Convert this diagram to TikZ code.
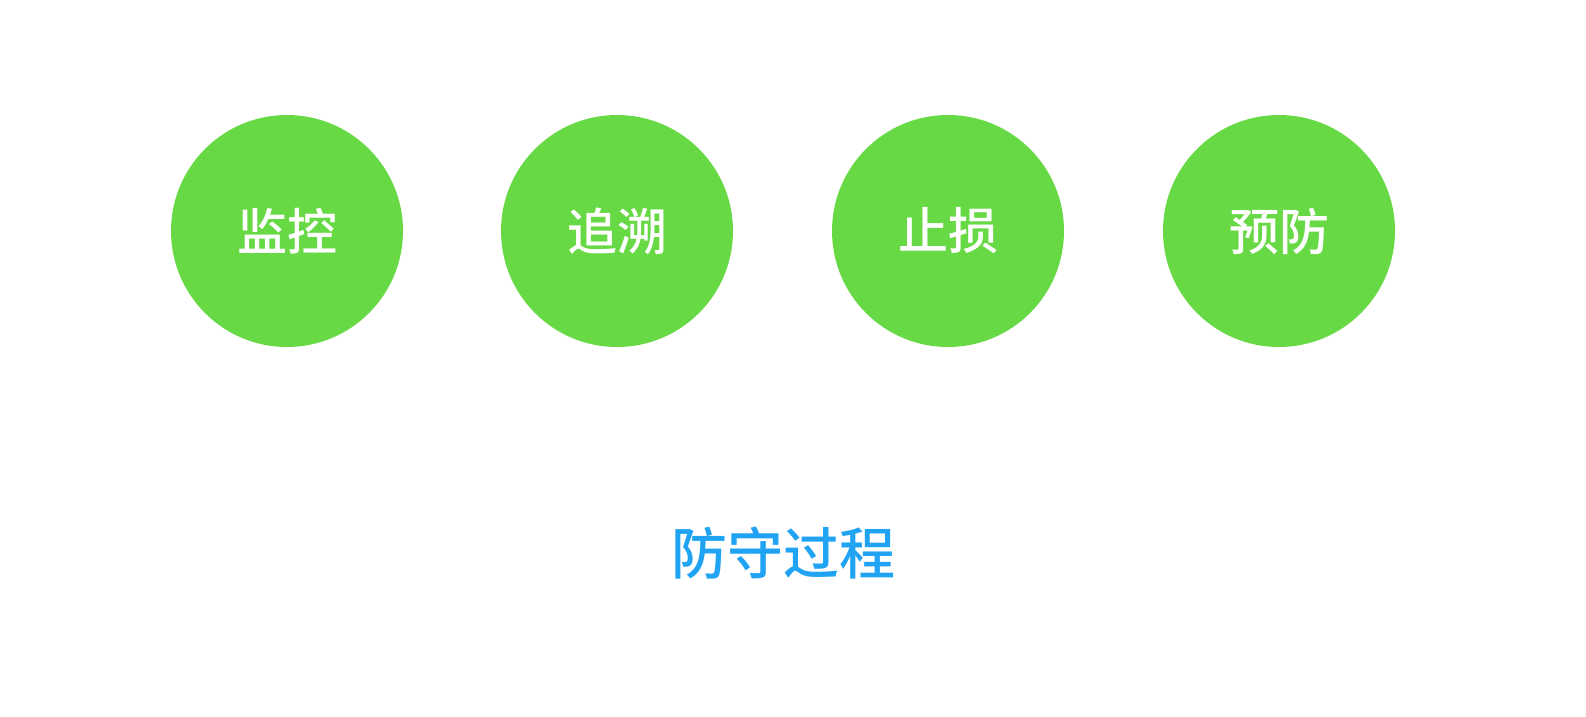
\documentclass[tikz,border=0pt]{standalone}
\usepackage{fontspec}
\newfontfamily\cjk{Noto Sans CJK SC}[UprightFont=* Medium,BoldFont=* Bold]
\definecolor{circgreen}{RGB}{103,217,69}
\definecolor{titleblue}{RGB}{33,163,243}
\begin{document}
\begin{tikzpicture}[x=1pt,y=-1pt,
  stepcircle/.style={circle,fill=circgreen,minimum size=232pt,inner sep=0pt,text=white,font=\cjk\fontsize{50}{50}\selectfont},
  titletext/.style={text=titleblue,font=\cjk\fontsize{56}{56}\selectfont,inner sep=0pt}]
\useasboundingbox (0,0) rectangle (1586,716);
\node[stepcircle] (c1) at (287,231) {监控};
\node[stepcircle] (c2) at (617,231) {追溯};
\node[stepcircle] (c3) at (948,231) {止损};
\node[stepcircle] (c4) at (1279,231) {预防};
\node[titletext] (t) at (783,553) {防守过程};
\end{tikzpicture}
\end{document}
